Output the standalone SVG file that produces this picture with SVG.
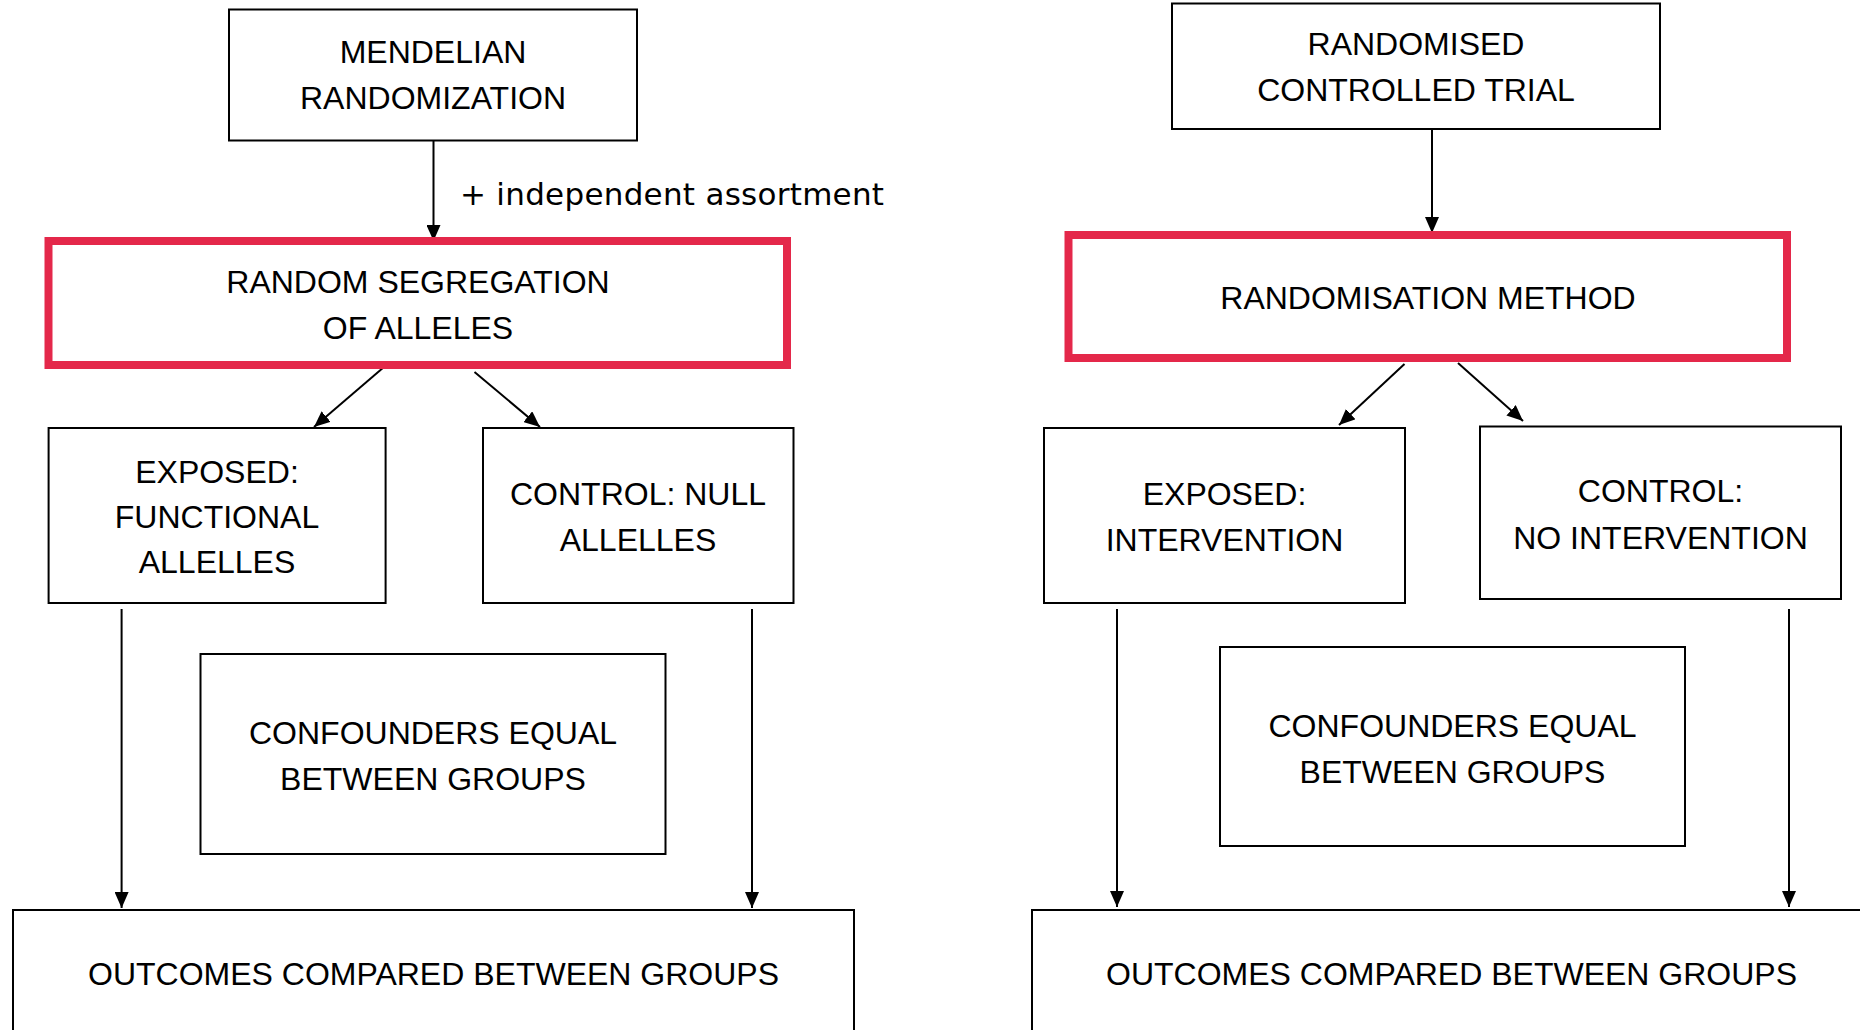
<svg xmlns="http://www.w3.org/2000/svg" width="1860" height="1030" viewBox="0 0 1860 1030">
  <style>
    .box { fill: #ffffff; stroke: #000000; stroke-width: 2; }
    .key { fill: #ffffff; stroke: #e4284a; stroke-width: 8; }
    .lbl { font-family: "Liberation Sans", Arial, sans-serif; font-size: 32px; fill: #000000; text-anchor: middle; }
    .note { font-family: "DejaVu Sans", "Liberation Sans", sans-serif; font-size: 31px; fill: #000000; }
    .edge { stroke: #000000; stroke-width: 2; fill: none; marker-end: url(#head); }
  </style>
  <defs>
    <marker id="head" markerUnits="userSpaceOnUse" markerWidth="16" markerHeight="14" refX="16" refY="7" orient="auto">
      <path d="M0,0 L16,7 L0,14 z" fill="#000000"/>
    </marker>
  </defs>
  <rect width="1860" height="1030" fill="#ffffff"/>

  <!-- connectors -->
  <g id="connectors">
    <!-- Mendelian randomization side -->
    <line class="edge" x1="433.5" y1="141" x2="433.5" y2="241"/>
    <line class="edge" x1="384" y1="367" x2="314" y2="427"/>
    <line class="edge" x1="474.5" y1="372" x2="540" y2="427"/>
    <line class="edge" x1="121.6" y1="609" x2="121.6" y2="908"/>
    <line class="edge" x1="752" y1="609" x2="752" y2="908"/>
    <text class="note" x="460" y="205" textLength="424" lengthAdjust="spacing">+ independent assortment</text>
    <!-- Randomised controlled trial side -->
    <line class="edge" x1="1432" y1="130" x2="1432" y2="233"/>
    <line class="edge" x1="1404.5" y1="364" x2="1339" y2="425"/>
    <line class="edge" x1="1458" y1="363" x2="1523" y2="421"/>
    <line class="edge" x1="1117" y1="609" x2="1117" y2="907"/>
    <line class="edge" x1="1789" y1="609" x2="1789" y2="907"/>
  </g>

  <!-- left column -->
  <g id="mendelian-randomization">
    <rect class="box" x="229" y="9.5" width="408" height="131"/>
    <text class="lbl" x="433" y="63">MENDELIAN</text>
    <text class="lbl" x="433" y="109">RANDOMIZATION</text>
  </g>
  <g id="random-segregation">
    <rect class="key" x="48.5" y="241" width="738.5" height="124"/>
    <text class="lbl" x="418" y="293">RANDOM SEGREGATION</text>
    <text class="lbl" x="418" y="339">OF ALLELES</text>
  </g>
  <g id="exposed-functional">
    <rect class="box" x="48.6" y="428" width="337" height="175"/>
    <text class="lbl" x="217" y="483">EXPOSED:</text>
    <text class="lbl" x="217" y="528">FUNCTIONAL</text>
    <text class="lbl" x="217" y="573">ALLELLES</text>
  </g>
  <g id="control-null">
    <rect class="box" x="483" y="428" width="310.5" height="175"/>
    <text class="lbl" x="638" y="505">CONTROL: NULL</text>
    <text class="lbl" x="638" y="551">ALLELLES</text>
  </g>
  <g id="confounders-left">
    <rect class="box" x="200.5" y="654" width="465" height="200"/>
    <text class="lbl" x="433" y="744">CONFOUNDERS EQUAL</text>
    <text class="lbl" x="433" y="790">BETWEEN GROUPS</text>
  </g>
  <g id="outcomes-left">
    <rect class="box" x="13" y="910" width="841" height="150"/>
    <text class="lbl" x="433.5" y="985">OUTCOMES COMPARED BETWEEN GROUPS</text>
  </g>

  <!-- right column -->
  <g id="randomised-controlled-trial">
    <rect class="box" x="1172" y="3.5" width="488" height="125.5"/>
    <text class="lbl" x="1416" y="55">RANDOMISED</text>
    <text class="lbl" x="1416" y="101">CONTROLLED TRIAL</text>
  </g>
  <g id="randomisation-method">
    <rect class="key" x="1068.5" y="235" width="718.5" height="123"/>
    <text class="lbl" x="1428" y="309">RANDOMISATION METHOD</text>
  </g>
  <g id="exposed-intervention">
    <rect class="box" x="1044" y="428" width="361" height="175"/>
    <text class="lbl" x="1224.5" y="504.5">EXPOSED:</text>
    <text class="lbl" x="1224.5" y="550.7">INTERVENTION</text>
  </g>
  <g id="control-no-intervention">
    <rect class="box" x="1480" y="426.5" width="361" height="172.5"/>
    <text class="lbl" x="1660.5" y="502">CONTROL:</text>
    <text class="lbl" x="1660.5" y="548.6">NO INTERVENTION</text>
  </g>
  <g id="confounders-right">
    <rect class="box" x="1220" y="647" width="465" height="199"/>
    <text class="lbl" x="1452.5" y="736.7">CONFOUNDERS EQUAL</text>
    <text class="lbl" x="1452.5" y="782.5">BETWEEN GROUPS</text>
  </g>
  <g id="outcomes-right">
    <rect class="box" x="1032" y="910" width="840" height="150"/>
    <text class="lbl" x="1451.5" y="985">OUTCOMES COMPARED BETWEEN GROUPS</text>
  </g>
</svg>
